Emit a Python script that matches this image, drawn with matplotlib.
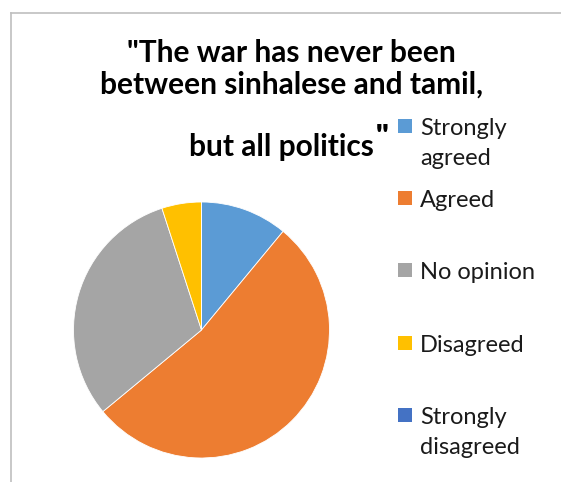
import matplotlib
matplotlib.use("Agg")
import matplotlib.pyplot as plt
from matplotlib.patches import Rectangle
from matplotlib.lines import Line2D

W, H = 561, 482

labels = ["Strongly\nagreed", "Agreed", "No opinion", "Disagreed", "Strongly\ndisagreed"]
shares = [11, 53, 31, 5, 0]
colors = ["#5B9BD5", "#ED7D31", "#A5A5A5", "#FFC000", "#4472C4"]
title_lines = ['"The war has never been', "between sinhalese and tamil,", "but all politics"]

plt.rcParams["font.family"] = ["Lato", "DejaVu Sans"]


def fx(x):
    return x / W


def fy(y):
    return 1 - y / H


fig = plt.figure(figsize=(W / 100, H / 100), dpi=100)

# outer chart frame (only left and top edges show)
fig.add_artist(Line2D([fx(10.5), fx(10.5)], [fy(12.5), 0], color="#BFBFBF", lw=1.2))
fig.add_artist(Line2D([fx(10.5), 1], [fy(12.5), fy(12.5)], color="#BFBFBF", lw=1.2))

# pie
cx, cy, r = 201.5, 330, 128
ax = fig.add_axes([fx(cx - r), fy(cy + r), 2 * r / W, 2 * r / H])
ax.pie(shares, colors=colors, startangle=90, counterclock=False,
       wedgeprops=dict(edgecolor="white", linewidth=0.6), radius=1.0)
ax.set_xlim(-1, 1)
ax.set_ylim(-1, 1)
ax.axis("off")

# title
title_base = [62, 94, 156]
title_cx = [291, 292, 281]
for txt, yb, xc in zip(title_lines, title_base, title_cx):
    fig.text(fx(xc), fy(yb), txt, ha="center", va="baseline",
             fontsize=21.5, fontweight="bold", color="black")
fig.text(fx(376), fy(146), '"', ha="left", va="baseline",
         fontsize=22, fontweight="heavy", color="black")

# legend
leg_box_top = [119, 191, 263, 336, 408]
for lab, col, top in zip(labels, colors, leg_box_top):
    fig.add_artist(Rectangle((fx(398), fy(top + 14)), 14 / W, 14 / H,
                             facecolor=col, edgecolor="none", transform=fig.transFigure))
    for i, part in enumerate(lab.split("\n")):
        fig.text(fx(420), fy(top + 16 + 30 * i), part, ha="left", va="baseline",
                 fontsize=17, color="#1a1a1a")

fig.savefig("out.png", dpi=100)
